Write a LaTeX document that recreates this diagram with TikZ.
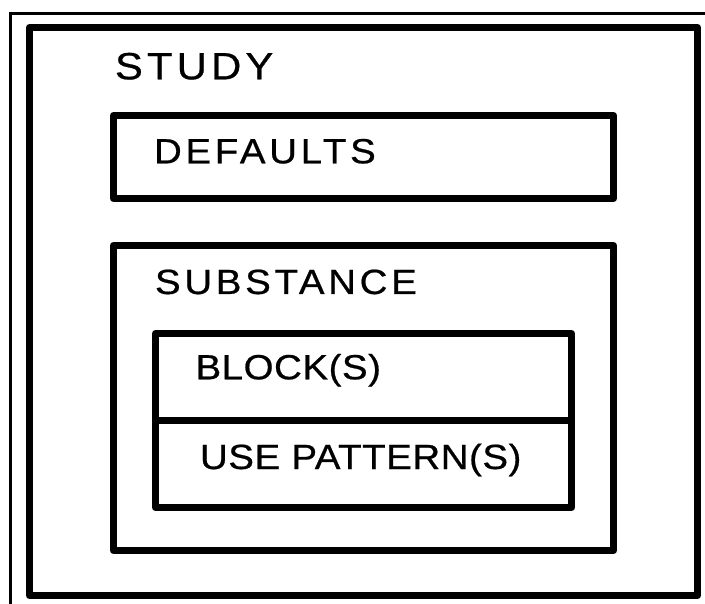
\documentclass[tikz,border=0pt]{standalone}
\usepackage{fontspec}
\setmainfont{Liberation Sans}
\newfontfamily\bigwide[LetterSpace=10.5,FakeStretch=1.1,FakeBold=0.6]{Liberation Sans}
\newfontfamily\studywide[LetterSpace=11,FakeStretch=1.1,FakeBold=0.6]{Liberation Sans}
\newfontfamily\smallwide[LetterSpace=1.5,FakeStretch=1.1,FakeBold=0.6]{Liberation Sans}
\begin{document}
\begin{tikzpicture}[x=1pt,y=-1pt,
  thickbox/.style={draw=black,line width=7pt,line join=round,minimum width=#1,inner sep=0pt,outer sep=0pt},
  thinline/.style={draw=black,line width=3pt},
  lbl/.style={anchor=base west,inner sep=0pt,outer sep=0pt,font=\bigwide\fontsize{35}{40}\selectfont},
  studylbl/.style={anchor=base west,inner sep=0pt,outer sep=0pt,font=\studywide\fontsize{38}{44}\selectfont},
  smalllbl/.style={anchor=base west,inner sep=0pt,outer sep=0pt,font=\smallwide\fontsize{35}{40}\selectfont}]
\useasboundingbox (0,0) rectangle (705,604);
% thin partial frame
\coordinate (fTL) at (10.5,13.5);
\coordinate (fTR) at (705,13.5);
\coordinate (fBL) at (10.5,604);
\draw[thinline] (fTR) -- (fTL) -- (fBL);
% boxes
\node[thickbox=668pt,minimum height=568pt] (study) at (363.5,311.5) {};
\node[thickbox=500pt,minimum height=83pt] (defaults) at (363.5,157) {};
\node[thickbox=500pt,minimum height=305pt] (substance) at (363.5,398) {};
\node[thickbox=416pt,minimum height=174pt] (inner) at (363.5,420.5) {};
\draw[line width=7pt] (inner.west) -- (inner.east);
% labels
\node[studylbl] (tstudy) at (115,79.3) {STUDY};
\node[lbl] (tdefaults) at (154,163.3) {DEFAULTS};
\node[lbl] (tsubstance) at (155,294) {SUBSTANCE};
\node[smalllbl] (tblock) at (195.5,379.3) {BLOCK(S)};
\node[smalllbl] (tuse) at (200,469) {USE PATTERN(S)};
\end{tikzpicture}
\end{document}
